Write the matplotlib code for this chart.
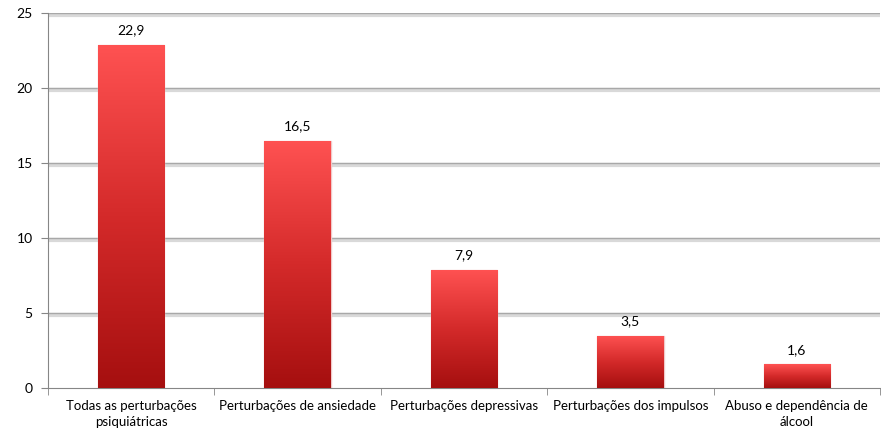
import numpy as np
import matplotlib
matplotlib.use("Agg")
import matplotlib.pyplot as plt
import matplotlib.patheffects as pe
from matplotlib.colors import LinearSegmentedColormap

# data
categories = ["Todas as perturbações\npsiquiátricas",
              "Perturbações de ansiedade",
              "Perturbações depressivas",
              "Perturbações dos impulsos",
              "Abuso e dependência de\nálcool"]
values = [22.9, 16.5, 7.9, 3.5, 1.6]
yticks = [0, 5, 10, 15, 20, 25]

plt.rcParams['font.family'] = ['Lato', 'DejaVu Sans']

fig = plt.figure(figsize=(8.81, 4.29), dpi=100)
ax = fig.add_axes([48/881, 41/429, 832/881, 375/429])

x = np.arange(len(categories))
bars = ax.bar(x, values, width=0.4, color='none', edgecolor='none', zorder=3)

# vertical red gradient in each bar, bright on top, dark at the base
cmap = LinearSegmentedColormap.from_list("red", ["#a50f0f", "#d42a2a", "#ff5252"])
grad = np.linspace(0, 1, 256).reshape(-1, 1)
for b in bars:
    x0, y0 = b.get_x(), b.get_y()
    w, h = b.get_width(), b.get_height()
    im = ax.imshow(grad, cmap=cmap, origin='lower', aspect='auto',
                   extent=(x0, x0 + w, y0, y0 + h), zorder=3)
    im.set_clip_path(b)
    # faint halo around the bar edge
    ax.add_patch(plt.Rectangle((x0, y0), w, h, fill=False, edgecolor='#f0c8c8',
                               linewidth=1.0, zorder=2))

labels = [f"{v:.1f}".replace(".", ",") for v in values]
ax.bar_label(bars, labels=labels, padding=6, fontsize=10, color='#000000')

ax.set_xlim(-0.5, len(categories) - 0.5)
ax.set_ylim(0, 25)
ax.set_yticks(yticks)
ax.set_yticklabels([str(t) for t in yticks], fontsize=10)

ax.set_xticks(x)
ax.set_xticklabels(categories, fontsize=9.5, linespacing=1.35)
ax.set_xticks(np.arange(len(categories) + 1) - 0.5, minor=True)
ax.tick_params(axis='x', which='major', length=0, pad=9)
ax.tick_params(axis='x', which='minor', length=5, color='#868686')
ax.tick_params(axis='y', length=5, color='#868686', pad=6)

# gridlines with a soft shadow like the office chart
for t in yticks[1:]:
    ax.axhline(t, color='#a8a8a8', linewidth=1.0, zorder=1,
               path_effects=[pe.SimpleLineShadow(offset=(0, -1.5), shadow_color='#d0d0d0',
                                                 alpha=0.8, linewidth=3),
                             pe.Normal()])

for s in ['top', 'right']:
    ax.spines[s].set_visible(False)
for s in ['left', 'bottom']:
    ax.spines[s].set_color('#868686')

fig.savefig("out.png", dpi=100)
